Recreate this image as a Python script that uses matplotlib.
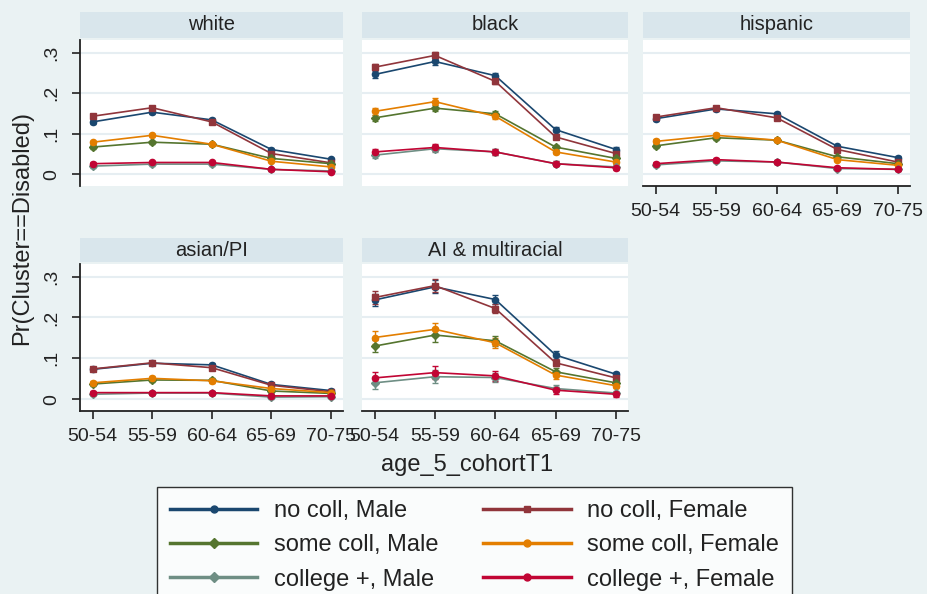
import numpy as np
import matplotlib.pyplot as plt
from matplotlib.lines import Line2D

plt.rcParams['font.family'] = ['Liberation Sans', 'DejaVu Sans']

## data
ages = ['50-54', '55-59', '60-64', '65-69', '70-75']
panels = ['white', 'black', 'hispanic', 'asian/PI', 'AI & multiracial']
series = ['no coll, Male', 'no coll, Female', 'some coll, Male',
          'some coll, Female', 'college +, Male', 'college +, Female']

white_vals = [
    [0.129, 0.153, 0.134, 0.061, 0.037],
    [0.143, 0.164, 0.129, 0.051, 0.028],
    [0.067, 0.079, 0.074, 0.039, 0.026],
    [0.079, 0.096, 0.074, 0.032, 0.018],
    [0.020, 0.025, 0.025, 0.012, 0.008],
    [0.026, 0.029, 0.029, 0.012, 0.006],
]
black_vals = [
    [0.246, 0.278, 0.243, 0.110, 0.061],
    [0.264, 0.293, 0.229, 0.092, 0.051],
    [0.139, 0.163, 0.149, 0.067, 0.039],
    [0.155, 0.179, 0.143, 0.055, 0.030],
    [0.047, 0.063, 0.055, 0.026, 0.018],
    [0.055, 0.066, 0.055, 0.026, 0.016],
]
hispanic_vals = [
    [0.137, 0.161, 0.149, 0.069, 0.041],
    [0.141, 0.164, 0.139, 0.061, 0.030],
    [0.070, 0.090, 0.084, 0.043, 0.026],
    [0.081, 0.096, 0.084, 0.036, 0.022],
    [0.023, 0.033, 0.030, 0.014, 0.012],
    [0.026, 0.036, 0.030, 0.016, 0.012],
]
asian_vals = [
    [0.073, 0.088, 0.084, 0.036, 0.021],
    [0.074, 0.089, 0.077, 0.034, 0.018],
    [0.037, 0.047, 0.046, 0.020, 0.014],
    [0.040, 0.051, 0.045, 0.026, 0.016],
    [0.012, 0.015, 0.015, 0.005, 0.006],
    [0.016, 0.016, 0.016, 0.008, 0.008],
]
ai_vals = [
    [0.243, 0.275, 0.244, 0.108, 0.061],
    [0.249, 0.278, 0.222, 0.089, 0.052],
    [0.130, 0.157, 0.143, 0.067, 0.040],
    [0.151, 0.171, 0.138, 0.059, 0.033],
    [0.040, 0.055, 0.053, 0.026, 0.015],
    [0.052, 0.065, 0.057, 0.022, 0.012],
]
# rough half-widths of the confidence intervals, per panel
ci_white = [0.004, 0.004, 0.004, 0.003, 0.003]
ci_black = [0.008, 0.008, 0.007, 0.006, 0.005]
ci_hispanic = [0.005, 0.005, 0.005, 0.004, 0.004]
ci_asian = [0.005, 0.005, 0.005, 0.004, 0.004]
ci_ai = [0.015, 0.016, 0.012, 0.009, 0.006]

all_vals = [white_vals, black_vals, hispanic_vals, asian_vals, ai_vals]
all_ci = [ci_white, ci_black, ci_hispanic, ci_asian, ci_ai]

colors = ['#1A476F', '#90353B', '#55752F', '#E37E00', '#6E8E84', '#C10534']
markers = ['o', 's', 'D', 'o', 'D', 'o']

W, H = 927, 594
bg = '#EAF2F3'
strip_col = '#D9E6EC'
grid_col = '#E6EEF2'

fig = plt.figure(figsize=(W / 100, H / 100), dpi=100, facecolor=bg)

def px_axes(x0, y0, x1, y1):
    return fig.add_axes([x0 / W, 1 - y1 / H, (x1 - x0) / W, (y1 - y0) / H])

cols = [(80, 343), (362, 628), (643, 910)]
rows = [((12, 38), (40, 186)), ((238, 262), (264, 411))]

for i, name in enumerate(panels):
    r, c = divmod(i, 3)
    (s0, s1), (p0, p1) = rows[r]
    x0, x1 = cols[c]

    # strip with panel title
    sax = px_axes(x0, s0, x1, s1)
    sax.set_facecolor(strip_col)
    sax.set_xticks([])
    sax.set_yticks([])
    for sp in sax.spines.values():
        sp.set_visible(False)
    sax.text(0.5, 0.5, name, ha='center', va='center', fontsize=14.5, color='#222222')

    ax = px_axes(x0, p0, x1, p1)
    ax.set_facecolor('white')
    ax.set_xlim(-0.21, 4.2)
    ax.set_ylim(-0.029, 0.331)
    x = np.arange(len(ages))
    for yv in [0, 0.1, 0.2, 0.3]:
        ax.axhline(yv, color=grid_col, lw=1.5, zorder=0)
    for k in range(len(series)):
        ax.errorbar(x, all_vals[i][k], yerr=all_ci[i], color=colors[k], lw=1.2,
                    marker=markers[k], ms=4.5, capsize=2.5, elinewidth=1.0, zorder=3)

    for sp in ax.spines.values():
        sp.set_visible(False)
    ax.tick_params(colors='#222222', width=1.2, length=6, labelsize=14)

    show_y = (c == 0)
    show_x = (r == 1) or (c == 2)
    if show_y:
        ax.spines['left'].set_visible(True)
        ax.spines['left'].set_linewidth(1.3)
        ax.spines['left'].set_color('#222222')
        ax.set_yticks([0, 0.1, 0.2, 0.3])
        ax.set_yticklabels(['0', '.1', '.2', '.3'], rotation=90, va='center')
        ax.tick_params(axis='y', pad=8)
    else:
        ax.set_yticks([])
    if show_x:
        ax.spines['bottom'].set_visible(True)
        ax.spines['bottom'].set_linewidth(1.3)
        ax.spines['bottom'].set_color('#222222')
        ax.set_xticks(x)
        ax.set_xticklabels(ages)
        ax.tick_params(axis='x', pad=6)
    else:
        ax.set_xticks([])

fig.text(22 / W, 1 - 228 / H, 'Pr(Cluster==Disabled)', rotation=90,
         ha='center', va='center', fontsize=17, color='#222222')
fig.text(467 / W, 1 - 465 / H, 'age_5_cohortT1', ha='center', va='center',
         fontsize=17, color='#222222')

# legend, ordered row by row like the original
handles = [Line2D([], [], color=colors[k], lw=2.5, marker=markers[k], ms=5) for k in range(6)]
order = [0, 2, 4, 1, 3, 5]
leg = fig.legend([handles[k] for k in order], [series[k] for k in order], ncol=2,
                 loc='upper left', bbox_to_anchor=(157 / W, 1 - 487 / H),
                 frameon=True, fancybox=False, edgecolor='black', facecolor='white',
                 fontsize=17, handlelength=3.7, handletextpad=0.7, columnspacing=1.9,
                 labelspacing=0.52, borderpad=0.55, borderaxespad=0)
leg.get_frame().set_linewidth(1.0)
for t in leg.get_texts():
    t.set_color('#222222')

fig.savefig('out.png', dpi=100, facecolor=bg)
